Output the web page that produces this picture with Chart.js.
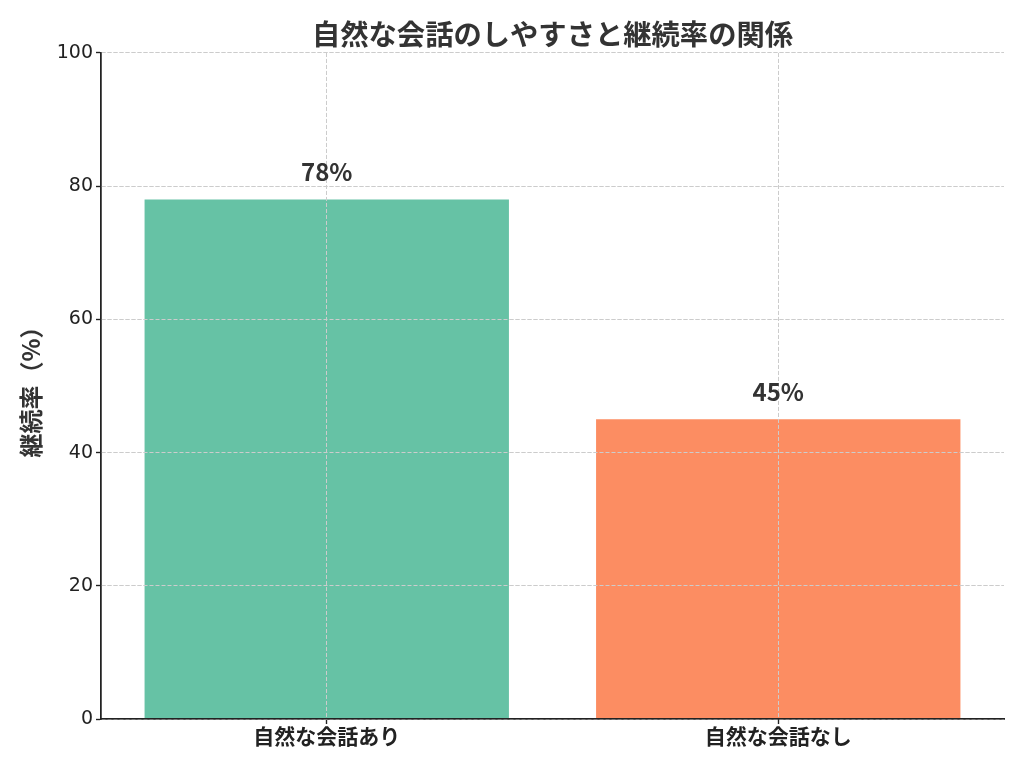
<!DOCTYPE html>
<html>
<head>
<meta charset="utf-8">
<script src="https://cdn.jsdelivr.net/npm/chart.js@4/dist/chart.umd.min.js"></script>
<style>
  html, body { margin: 0; padding: 0; background: #ffffff; }
  #wrap { width: 1024px; height: 768px; }
</style>
</head>
<body>
<div id="wrap"><canvas id="c" width="1024" height="768"></canvas></div>
<script>
const chartTitle = '自然な会話のしやすさと継続率の関係';
const yAxisTitle = '継続率（%）';
const categories = ['自然な会話あり', '自然な会話なし'];
const retentionRates = [78, 45];
const barColors = ['#66c2a5', '#fc8d62'];
const yTicks = [0, 20, 40, 60, 80, 100];

const CJK = "'Noto Sans CJK JP', 'Noto Sans', sans-serif";
const TEXT = '#333333';

const gridOnTop = {
  id: 'gridOnTop',
  afterDatasetsDraw(chart) {
    const area = chart.chartArea;
    ['x', 'y'].forEach(id => chart.scales[id].drawGrid(area));
    ['x', 'y'].forEach(id => chart.scales[id].drawBorder());
  }
};

const valueLabels = {
  id: 'valueLabels',
  afterDatasetsDraw(chart) {
    const ctx = chart.ctx;
    const meta = chart.getDatasetMeta(0);
    ctx.save();
    ctx.font = "bold 24px " + CJK;
    ctx.fillStyle = TEXT;
    ctx.textAlign = 'center';
    ctx.textBaseline = 'alphabetic';
    meta.data.forEach((bar, i) => {
      ctx.fillText(retentionRates[i] + '%', bar.x, bar.y - 18);
    });
    ctx.restore();
  }
};

new Chart(document.getElementById('c'), {
  type: 'bar',
  data: {
    labels: categories,
    datasets: [{
      data: retentionRates,
      backgroundColor: barColors,
      borderWidth: 0,
      barPercentage: 0.807,
      categoryPercentage: 1.0
    }]
  },
  options: {
    responsive: false,
    animation: false,
    devicePixelRatio: 1,
    layout: { padding: { left: 0, right: 20, top: 0, bottom: 0 } },
    plugins: {
      legend: { display: false },
      tooltip: { enabled: false },
      title: {
        display: true,
        text: chartTitle,
        fullSize: false,
        color: TEXT,
        font: { family: CJK, size: 28.3, weight: 'bold' },
        padding: { top: 17, bottom: 2 }
      }
    },
    scales: {
      x: {
        afterFit(s) { s.height = 49; },
        grid: {
          offset: false,
          color: '#cccccc',
          lineWidth: 1,
          tickLength: 5,
          tickColor: '#222222',
          tickWidth: 1.2
        },
        border: { display: true, color: '#222222', width: 1.5, dash: [4, 2] },
        ticks: {
          color: '#222222',
          padding: -1,
          font: { family: CJK, size: 21, weight: 'bold' }
        }
      },
      y: {
        min: 0,
        max: 100,
        afterFit(s) { s.width = 101; },
        afterBuildTicks(s) { s.ticks = yTicks.map(v => ({ value: v })); },
        grid: {
          color: '#cccccc',
          lineWidth: 1,
          tickLength: 5,
          tickColor: '#222222',
          tickWidth: 1.2
        },
        border: { display: true, color: '#222222', width: 1.5, dash: [4, 2] },
        ticks: {
          color: '#222222',
          padding: 3,
          font: { family: "'DejaVu Sans', sans-serif", size: 19 }
        },
        title: {
          display: true,
          text: yAxisTitle,
          color: TEXT,
          font: { family: CJK, size: 24, weight: 'bold' },
          padding: { top: 16, bottom: 0 }
        }
      }
    }
  },
  plugins: [gridOnTop, valueLabels]
});
</script>
</body>
</html>
